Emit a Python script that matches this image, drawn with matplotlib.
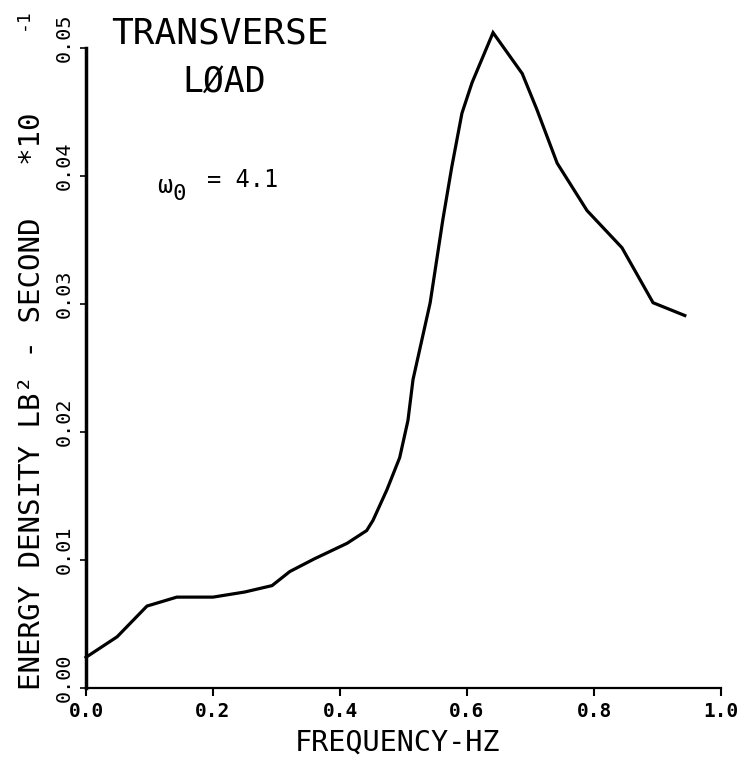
import matplotlib
matplotlib.use("Agg")
import matplotlib.pyplot as plt
from matplotlib.transforms import offset_copy

# Data
freq = [0.0, 0.049, 0.096, 0.143, 0.2, 0.25, 0.293, 0.321, 0.36, 0.411, 0.442,
        0.452, 0.474, 0.494, 0.507, 0.515, 0.542, 0.562, 0.576, 0.592, 0.608,
        0.641, 0.687, 0.71, 0.742, 0.789, 0.844, 0.893, 0.943]
energy = [0.0024, 0.0040, 0.0064, 0.0071, 0.0071, 0.0075, 0.0080, 0.0091, 0.0101,
          0.0113, 0.0123, 0.0131, 0.0155, 0.0180, 0.0209, 0.0241, 0.0301, 0.0366,
          0.0407, 0.0449, 0.0473, 0.0512, 0.0480, 0.0452, 0.0410, 0.0373, 0.0344,
          0.0301, 0.0291]
xticks = [0.0, 0.2, 0.4, 0.6, 0.8, 1.0]
xticklabels = ["0.0", "0.2", "0.4", "0.6", "0.8", "1.0"]
yticks = [0.00, 0.01, 0.02, 0.03, 0.04, 0.05]
yticklabels = ["0.00", "0.01", "0.02", "0.03", "0.04", "0.05"]

FONT = "DejaVu Sans Mono"
plt.rcParams['font.family'] = [FONT, 'DejaVu Sans']

W, H = 750, 762
fig = plt.figure(figsize=(W / 100, H / 100), dpi=100)

def px(x, y):
    return x / W, 1 - y / H

left, right, bottom, top = 86, 721, 688, 48
ax = fig.add_axes([left / W, 1 - bottom / H, (right - left) / W, (bottom - top) / H])

ax.plot(freq, energy, color="black", lw=2.3, clip_on=False, solid_joinstyle="miter")
ax.set_xlim(0, 1.0)
ax.set_ylim(0, 0.05)

for s in ["top", "right"]:
    ax.spines[s].set_visible(False)
ax.spines["left"].set_linewidth(2.5)
ax.spines["bottom"].set_linewidth(1.6)

ax.set_xticks(xticks)
ax.set_xticklabels(xticklabels, fontsize=14, fontweight="bold")
ax.tick_params(axis="x", direction="out", length=6, width=1.5, pad=4)

ax.set_yticks(yticks)
ax.set_yticklabels([])
ax.tick_params(axis="y", direction="out", length=4, width=1.2)
ytrans = offset_copy(ax.get_yaxis_transform(), fig=fig, x=-22, y=10, units="dots")
for v, lab in zip(yticks, yticklabels):
    ax.text(0, v, lab, transform=ytrans, rotation=90, ha="center", va="center",
            fontsize=14.5)

fig.text(*px(398, 743), "FREQUENCY-HZ", ha="center", va="center", fontsize=20.5)

# y label
fig.text(*px(32, 690), "ENERGY DENSITY LB\u00b2 - SECOND   *10", rotation=90,
         ha="center", va="bottom", fontsize=21)
fig.text(*px(23, 19), "-1", rotation=90, ha="center", va="center", fontsize=13)

# annotations
fig.text(*px(220, 34), "TRANSVERSE", ha="center", va="center", fontsize=26)
fig.text(*px(224, 82), "L\u00d8AD", ha="center", va="center", fontsize=25)
fig.text(*px(157, 193), "\u03c9", ha="left", va="baseline", fontsize=18)
fig.text(*px(172, 200), "0", ha="left", va="baseline", fontsize=16)
fig.text(*px(207, 187), "= 4.1", ha="left", va="baseline", fontsize=17)

fig.savefig("out.png", dpi=100)
